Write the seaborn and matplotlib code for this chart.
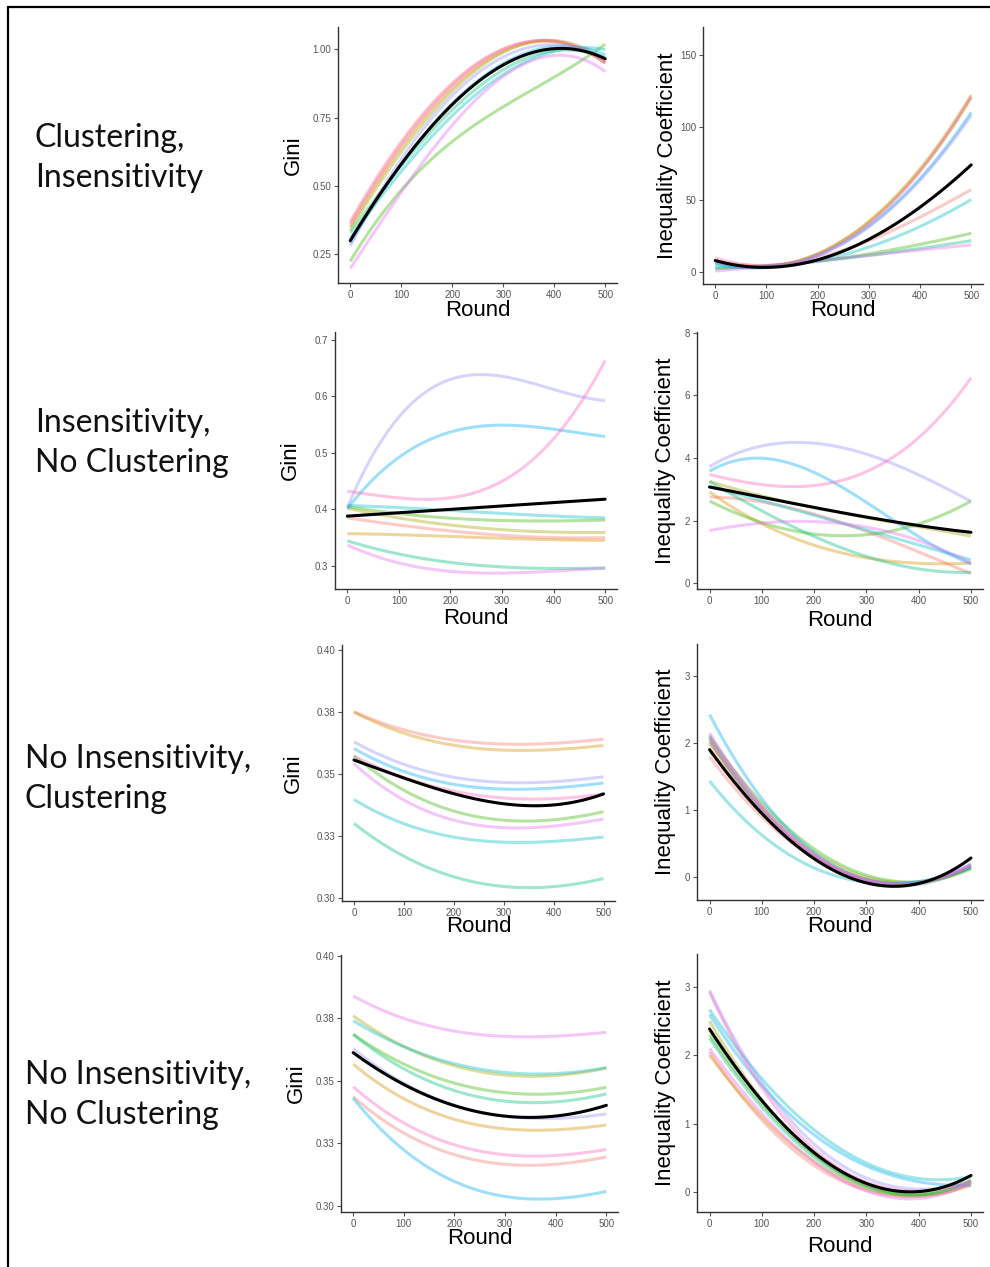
import matplotlib
matplotlib.use("Agg")
import matplotlib.pyplot as plt
from matplotlib.lines import Line2D
import seaborn as sns
import pandas as pd

sns.set_theme(style="white")
plt.rcParams['font.family'] = ['Liberation Sans', 'DejaVu Sans']

# ---------------- data ----------------
ROUNDS = [0, 100, 200, 300, 400, 500]
SERIES_ORDER = ['red', 'orange', 'olive', 'green', 'teal', 'cyan',
                'blue', 'purple', 'magenta', 'pink']
SERIES_COLORS = {'red': '#F8766D', 'orange': '#D89000', 'olive': '#A3A500',
                 'green': '#39B600', 'teal': '#00BF7D', 'cyan': '#00BFC4',
                 'blue': '#00B0F6', 'purple': '#9590FF', 'magenta': '#E76BF3',
                 'pink': '#FF62BC'}

ROW_LABELS = ["Clustering,\nInsensitivity",
              "Insensitivity,\nNo Clustering",
              "No Insensitivity,\nClustering",
              "No Insensitivity,\nNo Clustering"]

# Row 1: Clustering, Insensitivity
gini_r1 = {
    'red':     [0.37, 0.66, 0.88, 1.00, 1.03, 0.95],
    'orange':  [0.35, 0.64, 0.86, 0.99, 1.03, 0.95],
    'olive':   [0.34, 0.62, 0.85, 0.99, 1.03, 0.96],
    'green':   [0.22, 0.50, 0.65, 0.785, 0.91, 1.015],
    'teal':    [0.33, 0.57, 0.78, 0.93, 0.99, 0.97],
    'cyan':    [0.31, 0.55, 0.76, 0.91, 0.99, 1.00],
    'blue':    [0.29, 0.58, 0.80, 0.95, 1.01, 0.98],
    'purple':  [0.28, 0.60, 0.83, 0.97, 1.02, 0.96],
    'magenta': [0.20, 0.47, 0.73, 0.90, 0.975, 0.92],
    'pink':    [0.36, 0.65, 0.87, 1.00, 1.03, 0.95],
}
gini_r1_mean = [0.30, 0.58, 0.80, 0.94, 1.005, 0.965]

ineq_r1 = {
    'red':     [8, 5, 10, 22, 38, 57],
    'orange':  [8, 5, 12, 35, 72, 122],
    'olive':   [7, 5, 12, 34, 71, 120],
    'green':   [3, 4, 8, 13, 19, 27],
    'teal':    [3, 4, 8, 12, 16, 22],
    'cyan':    [5, 4, 8, 17, 32, 50],
    'blue':    [6, 4, 11, 32, 65, 110],
    'purple':  [7, 4, 11, 31, 64, 108],
    'magenta': [1, 4, 8, 12, 15, 19],
    'pink':    [10, 5, 12, 33, 70, 121],
}
ineq_r1_mean = [8, 4, 8, 23, 45, 74]

# Row 2: Insensitivity, No Clustering
gini_r2 = {
    'purple':  [0.40, 0.575, 0.62, 0.633, 0.62, 0.59],
    'blue':    [0.40, 0.495, 0.535, 0.547, 0.545, 0.528],
    'pink':    [0.433, 0.418, 0.42, 0.455, 0.52, 0.665],
    'cyan':    [0.407, 0.403, 0.398, 0.393, 0.388, 0.385],
    'green':   [0.405, 0.393, 0.384, 0.380, 0.380, 0.381],
    'olive':   [0.402, 0.385, 0.372, 0.364, 0.360, 0.359],
    'red':     [0.385, 0.372, 0.362, 0.354, 0.350, 0.350],
    'orange':  [0.357, 0.355, 0.352, 0.349, 0.346, 0.345],
    'teal':    [0.344, 0.322, 0.305, 0.298, 0.296, 0.296],
    'magenta': [0.337, 0.305, 0.290, 0.288, 0.290, 0.296],
}
gini_r2_mean = [0.388, 0.394, 0.400, 0.406, 0.412, 0.418]

ineq_r2 = {
    'pink':    [3.47, 3.15, 3.15, 3.5, 4.7, 6.55],
    'purple':  [3.73, 4.37, 4.5, 4.1, 3.47, 2.61],
    'blue':    [3.57, 4.0, 3.57, 2.5, 1.55, 0.6],
    'olive':   [3.25, 2.8, 2.4, 2.1, 1.8, 1.5],
    'green':   [2.62, 1.95, 1.55, 1.55, 1.9, 2.62],
    'magenta': [1.69, 1.88, 2.0, 1.8, 1.33, 0.64],
    'cyan':    [3.1, 2.6, 2.2, 1.7, 1.2, 0.75],
    'red':     [2.75, 2.6, 2.2, 1.65, 1.0, 0.3],
    'orange':  [2.93, 1.85, 1.25, 0.82, 0.6, 0.65],
    'teal':    [3.25, 2.3, 1.5, 0.85, 0.45, 0.35],
}
ineq_r2_mean = [3.07, 2.75, 2.42, 2.1, 1.85, 1.62]

# Row 3: No Insensitivity, Clustering
gini_r3 = {
    'red':     [0.375, 0.368, 0.3635, 0.362, 0.3625, 0.364],
    'orange':  [0.375, 0.3665, 0.3615, 0.3597, 0.3598, 0.3615],
    'purple':  [0.363, 0.354, 0.3485, 0.3468, 0.3468, 0.3489],
    'blue':    [0.3603, 0.351, 0.3458, 0.344, 0.3443, 0.3464],
    'pink':    [0.357, 0.349, 0.3428, 0.340, 0.3405, 0.3418],
    'green':   [0.3572, 0.344, 0.3345, 0.3314, 0.3318, 0.3347],
    'magenta': [0.354, 0.340, 0.3307, 0.3287, 0.329, 0.3318],
    'cyan':    [0.3397, 0.330, 0.3245, 0.3226, 0.3228, 0.3246],
    'teal':    [0.330, 0.317, 0.3085, 0.3045, 0.3048, 0.3078],
}
gini_r3_mean = [0.3556, 0.3485, 0.3421, 0.3377, 0.3378, 0.3419]

ineq_r3 = {
    'blue':    [2.42, 1.2, 0.35, -0.05, -0.05, 0.18],
    'cyan':    [1.43, 0.65, 0.12, -0.08, -0.05, 0.13],
    'green':   [2.1, 1.1, 0.45, 0.0, -0.05, 0.12],
    'red':     [1.8, 0.9, 0.3, -0.05, -0.06, 0.15],
    'purple':  [2.12, 1.05, 0.35, -0.05, -0.07, 0.2],
    'pink':    [2.15, 1.05, 0.35, -0.07, -0.08, 0.17],
    'orange':  [2.0, 1.0, 0.33, -0.06, -0.06, 0.14],
    'magenta': [2.05, 1.0, 0.32, -0.06, -0.07, 0.18],
    'olive':   [2.02, 1.05, 0.38, -0.02, -0.05, 0.15],
    'teal':    [2.08, 1.0, 0.3, -0.08, -0.1, 0.16],
}
ineq_r3_mean = [1.9, 0.96, 0.28, -0.11, -0.07, 0.28]

# Row 4: No Insensitivity, No Clustering
gini_r4 = {
    'magenta': [0.384, 0.375, 0.370, 0.3677, 0.368, 0.3694],
    'olive':   [0.376, 0.364, 0.356, 0.352, 0.3525, 0.355],
    'cyan':    [0.374, 0.364, 0.3565, 0.3535, 0.353, 0.3553],
    'green':   [0.3686, 0.357, 0.349, 0.345, 0.3452, 0.3473],
    'teal':    [0.3684, 0.3555, 0.3455, 0.3418, 0.342, 0.3446],
    'purple':  [0.363, 0.349, 0.3405, 0.3355, 0.3352, 0.3367],
    'orange':  [0.3567, 0.343, 0.3345, 0.3308, 0.3305, 0.3323],
    'pink':    [0.3477, 0.333, 0.3245, 0.3205, 0.320, 0.3226],
    'red':     [0.3437, 0.329, 0.3205, 0.3167, 0.3165, 0.3196],
    'blue':    [0.3433, 0.3216, 0.3105, 0.3037, 0.3025, 0.3059],
}
gini_r4_mean = [0.3614, 0.3483, 0.3403, 0.336, 0.3357, 0.3403]

ineq_r4 = {
    'cyan':    [2.67, 1.65, 0.92, 0.42, 0.2, 0.23],
    'blue':    [2.6, 1.55, 0.85, 0.38, 0.15, 0.1],
    'purple':  [2.95, 1.6, 0.7, 0.2, 0.05, 0.15],
    'pink':    [2.93, 1.5, 0.65, 0.15, 0.0, 0.15],
    'green':   [2.3, 1.3, 0.55, 0.1, -0.03, 0.15],
    'teal':    [2.25, 1.25, 0.5, 0.08, -0.04, 0.17],
    'olive':   [2.5, 1.35, 0.55, 0.1, -0.03, 0.18],
    'orange':  [2.0, 1.1, 0.45, 0.05, -0.05, 0.12],
    'red':     [2.05, 1.05, 0.4, 0.02, -0.06, 0.1],
    'magenta': [2.1, 1.15, 0.45, 0.0, -0.08, 0.14],
}
ineq_r4_mean = [2.39, 1.32, 0.59, 0.14, -0.01, 0.25]

GINI_TICKS_R1 = [0.25, 0.50, 0.75, 1.00]
GINI_LABELS_R1 = ["0.25", "0.50", "0.75", "1.00"]
GINI_TICKS_R2 = [0.3, 0.4, 0.5, 0.6, 0.7]
GINI_LABELS_R2 = ["0.3", "0.4", "0.5", "0.6", "0.7"]
GINI_TICKS_R34 = [0.300, 0.325, 0.350, 0.375, 0.400]
GINI_LABELS_R34 = ["0.30", "0.33", "0.35", "0.38", "0.40"]
INEQ_TICKS_R1 = [0, 50, 100, 150]
INEQ_TICKS_R2 = [0, 2, 4, 6, 8]
INEQ_TICKS_R34 = [0, 1, 2, 3]
X_TICKS = [0, 100, 200, 300, 400, 500]

# ---------------- layout ----------------
W, H = 990, 1267
fig = plt.figure(figsize=(W / 100, H / 100), dpi=100)
fig.patch.set_facecolor('white')


def make_ax(L, R, T, B):
    return fig.add_axes([L / W, 1 - B / H, (R - L) / W, (B - T) / H])


def long_df(series):
    rows = []
    for name, vals in series.items():
        for r, v in zip(ROUNDS, vals):
            rows.append({'series': name, 'Round': r, 'value': v})
    return pd.DataFrame(rows)


def draw_panel(box, series, mean, ylim, yticks, ylabels, ylabel,
               ylab_x, xlab_y):
    L, R, T, B = box
    ax = make_ax(L, R, T, B)
    df = long_df(series)
    for name in SERIES_ORDER:
        if name not in series:
            continue
        sub = df[df['series'] == name]
        sns.regplot(data=sub, x='Round', y='value', order=3, ci=None,
                    scatter=False, truncate=True, ax=ax,
                    line_kws=dict(color=SERIES_COLORS[name], alpha=0.38,
                                  lw=2.2, solid_capstyle='butt'))
    mdf = pd.DataFrame({'Round': ROUNDS, 'value': mean})
    sns.regplot(data=mdf, x='Round', y='value', order=3, ci=None,
                scatter=False, truncate=True, ax=ax,
                line_kws=dict(color='black', lw=2.2))
    ax.set_xlim(-24, 523)
    ax.set_ylim(*ylim)
    ax.set_xticks(X_TICKS)
    ax.set_yticks(yticks)
    if ylabels is not None:
        ax.set_yticklabels(ylabels)
    else:
        ax.set_yticklabels([str(t) for t in yticks])
    for s in ['top', 'right']:
        ax.spines[s].set_visible(False)
    for s in ['left', 'bottom']:
        ax.spines[s].set_color('#333333')
        ax.spines[s].set_linewidth(1.0)
    ax.tick_params(axis='both', which='both', length=3, width=0.8,
                   color='#555555', labelsize=7, labelcolor='#555555',
                   pad=2, left=True, bottom=True)
    ax.set_xlabel('Round', fontsize=16, color='black')
    ax.set_ylabel(ylabel, fontsize=16, color='black')
    ax.xaxis.label.set_va('center')
    ax.yaxis.label.set_va('center')
    ax.yaxis.set_label_coords((ylab_x - L) / (R - L), 0.5)
    ax.xaxis.set_label_coords(0.5, (B - xlab_y) / (B - T))
    ax.grid(False)
    return ax


# row 1
draw_panel((338, 617, 27, 283), gini_r1, gini_r1_mean, (0.145, 1.082),
           GINI_TICKS_R1, GINI_LABELS_R1, 'Gini', 293, 311)
draw_panel((703, 983, 27, 284), ineq_r1, ineq_r1_mean, (-8, 169),
           INEQ_TICKS_R1, None, 'Inequality Coefficient', 667, 311)
# row 2
draw_panel((335, 617, 332, 589), gini_r2, gini_r2_mean, (0.259, 0.714),
           GINI_TICKS_R2, GINI_LABELS_R2, 'Gini', 290, 618)
draw_panel((697, 983, 332, 589), ineq_r2, ineq_r2_mean, (-0.19, 8.03),
           INEQ_TICKS_R2, None, 'Inequality Coefficient', 666, 620)
# row 3
draw_panel((342, 615, 645, 901), gini_r3, gini_r3_mean, (0.2988, 0.402),
           GINI_TICKS_R34, GINI_LABELS_R34, 'Gini', 293, 926)
draw_panel((697, 983, 644, 900), ineq_r3, ineq_r3_mean, (-0.34, 3.48),
           INEQ_TICKS_R34, None, 'Inequality Coefficient', 665, 927)
# row 4
draw_panel((341, 618, 955, 1212), gini_r4, gini_r4_mean, (0.2975, 0.4004),
           GINI_TICKS_R34, GINI_LABELS_R34, 'Gini', 296, 1239)
draw_panel((697, 983, 954, 1212), ineq_r4, ineq_r4_mean, (-0.29, 3.48),
           INEQ_TICKS_R34, None, 'Inequality Coefficient', 665, 1246)

# row labels
label_pos = [(35, 158), (35, 443), (25, 779), (25, 1095)]
for text, (x, y) in zip(ROW_LABELS, label_pos):
    fig.text(x / W, 1 - y / H, text, fontsize=23, family=['Lato', 'DejaVu Sans'],
             ha='left', va='center', linespacing=1.38, color='#111111')

# frame
fig.add_artist(Line2D([8 / W, 8 / W], [0, 1 - 7 / H], transform=fig.transFigure,
                      color='black', lw=1.6))
fig.add_artist(Line2D([8 / W, 1], [1 - 7 / H, 1 - 7 / H], transform=fig.transFigure,
                      color='black', lw=1.6))

fig.savefig('out.png', dpi=100, facecolor='white')
